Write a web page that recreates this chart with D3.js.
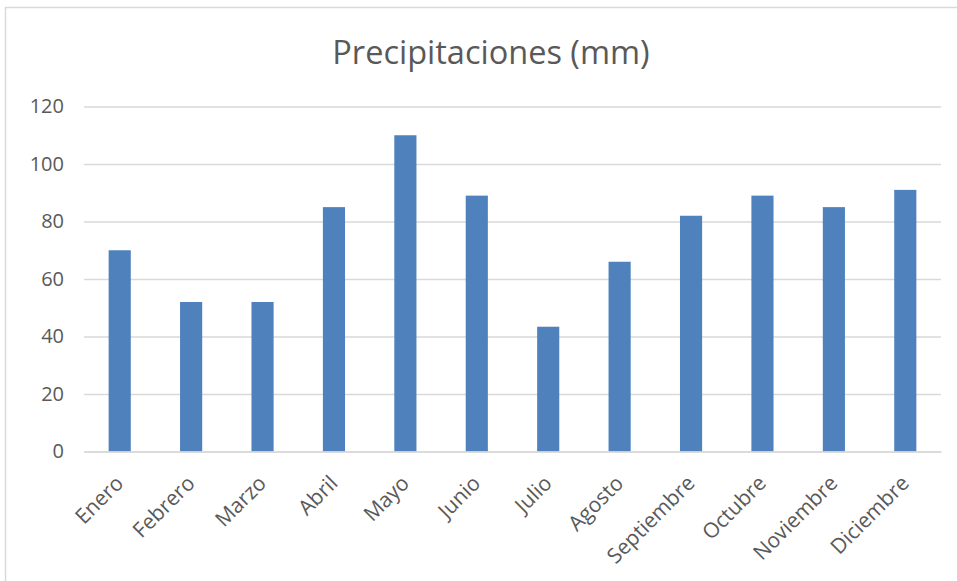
<!DOCTYPE html>
<html>
<head>
<meta charset="utf-8">
<script src="https://cdn.jsdelivr.net/npm/d3@7"></script>
<style>
  html, body { margin: 0; padding: 0; background: #ffffff; }
  svg { display: block; }
</style>
</head>
<body>
<svg id="chart" width="957" height="581"></svg>
<script>
// Monthly rainfall
const months = ["Enero", "Febrero", "Marzo", "Abril", "Mayo", "Junio",
                "Julio", "Agosto", "Septiembre", "Octubre", "Noviembre", "Diciembre"];
const rainfall = [70, 52, 52, 85, 110, 89, 43.4, 66, 82, 89, 85, 91];
const yTicks = [0, 20, 40, 60, 80, 100, 120];
const chartTitle = "Precipitaciones (mm)";

const W = 957, H = 581;
const margin = { left: 84, right: 16, top: 106.5, bottom: 129.5 };
const font = "'Open Sans', 'Noto Sans', sans-serif";
const textColor = "#595959";

const svg = d3.select("#chart");

// Chart area outline
svg.append("rect")
  .attr("x", 5.5).attr("y", 7.5)
  .attr("width", W + 20).attr("height", H + 20)
  .attr("fill", "#ffffff")
  .attr("stroke", "#d9d9d9")
  .attr("stroke-width", 1.5);

const x = d3.scaleBand()
  .domain(months)
  .range([margin.left, W - margin.right])
  .paddingInner(0.69)
  .paddingOuter(0.345);

const y = d3.scaleLinear()
  .domain([0, 120])
  .range([H - margin.bottom, margin.top]);

// Horizontal gridlines with value labels
const yAxis = d3.axisLeft(y)
  .tickValues(yTicks)
  .tickSize(-(W - margin.right - margin.left))
  .tickPadding(20)
  .tickFormat(d3.format("d"));

const gy = svg.append("g")
  .attr("transform", `translate(${margin.left},0)`)
  .call(yAxis);
gy.select(".domain").remove();
gy.selectAll(".tick line").attr("stroke", "#d9d9d9").attr("stroke-width", 1.3);
gy.selectAll(".tick text")
  .attr("fill", textColor)
  .style("font-family", font)
  .style("font-size", "20px");

// Bars
svg.append("g")
  .selectAll("rect")
  .data(rainfall)
  .join("rect")
  .attr("x", (d, i) => x(months[i]))
  .attr("y", d => y(d))
  .attr("width", x.bandwidth())
  .attr("height", d => y(0) - y(d))
  .attr("fill", "#4f81bd");

// Category axis along the baseline
const xAxis = d3.axisBottom(x).tickSize(0).tickPadding(0);
const gx = svg.append("g")
  .attr("transform", `translate(0,${y(0)})`)
  .call(xAxis);
gx.select(".domain").attr("stroke", "#d9d9d9").attr("stroke-width", 1.3);
gx.selectAll(".tick text")
  .attr("fill", textColor)
  .style("font-family", font)
  .style("font-size", "21px")
  .attr("text-anchor", "end")
  .attr("dy", null)
  .attr("y", 0)
  .attr("transform", "translate(5,33) rotate(-45)");

// Title
svg.append("text")
  .attr("x", 491)
  .attr("y", 64)
  .attr("text-anchor", "middle")
  .attr("fill", textColor)
  .style("font-family", font)
  .style("font-size", "32.5px")
  .text(chartTitle);
</script>
</body>
</html>
